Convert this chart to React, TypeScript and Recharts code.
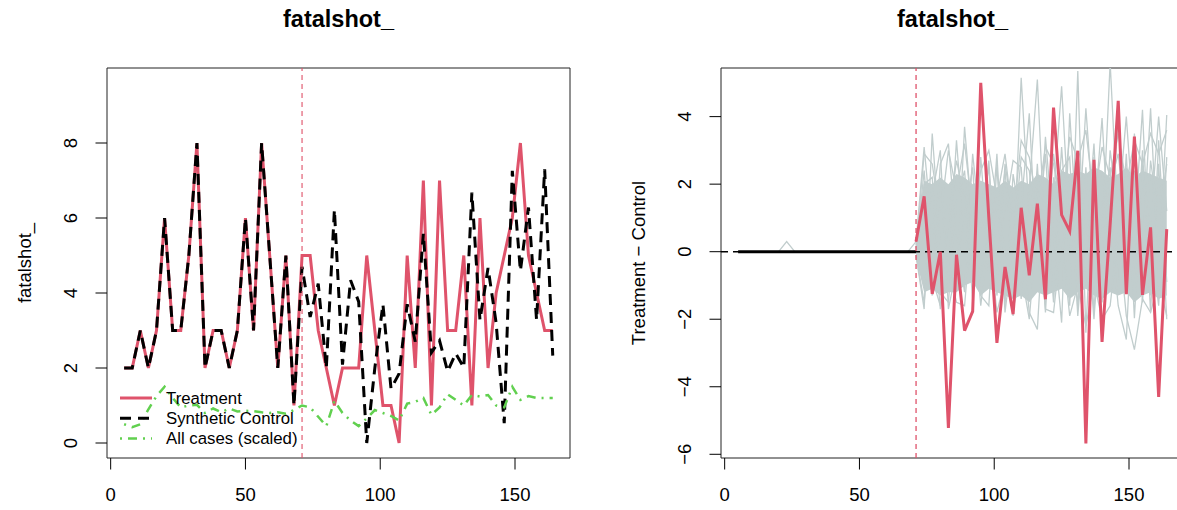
import React from "react";
import {
  Area,
  ComposedChart,
  Line,
  ReferenceArea,
  ReferenceLine,
  XAxis,
  YAxis,
} from "recharts";

// time index, every 3 units
const weeks = [
  5, 8, 11, 14, 17, 20, 23, 26, 29, 32, 35, 38, 41, 44, 47, 50, 53, 56, 59, 62, 65, 68,
  71, 74, 77, 80, 83, 86, 89, 92, 95, 98, 101, 104, 107, 110, 113, 116, 119, 122, 125, 128,
  131, 134, 137, 140, 143, 146, 149, 152, 155, 158, 161, 164,
];
const treatStart = 71;

const treatment = [
  2, 2, 3, 2, 3, 6, 3, 3, 5, 8, 2, 3, 3, 2, 3, 6, 3, 8, 5, 2, 5, 1,
  5, 5, 3, 2, 1, 2, 2, 2, 5, 3, 1, 1, 0, 5, 2, 7, 1, 7, 3, 3, 5, 1, 6, 2, 4, 5, 6, 8, 5, 4, 3, 3,
];
const synthetic = [
  2, 2, 3, 2, 3, 6, 3, 3, 5, 8, 2, 3, 3, 2, 3, 6, 3, 8, 5, 2, 5, 1,
  4.7, 3.36, 4.25, 2.0, 6.22, 2.09, 4.34, 3.77, 0.0, 2.0, 3.7, 1.45, 1.85, 3.7, 2.7, 5.58,
  2.41, 2.73, 1.91, 2.39, 2.01, 6.68, 3.28, 4.67, 3.2, 0.53, 7.26, 4.59, 6.28, 3.28, 7.3, 2.33,
];
const allCasesScaled = [
  0.5, 0.42, 0.5, 0.9, 1.25, 1.5, 1.2, 0.95, 1.0, 1.02, 0.8, 0.92, 0.82, 0.92, 0.84, 0.86,
  0.85, 0.82, 0.8, 0.82, 0.78, 0.88,
  1.0, 0.95, 0.7, 0.45, 1.12, 0.8, 0.6, 0.45, 0.66, 0.88, 0.8, 0.72, 0.6, 1.05, 1.1, 1.2,
  0.75, 0.95, 1.3, 1.15, 1.0, 1.28, 1.24, 1.28, 1.0, 0.95, 1.5, 1.15, 1.25, 1.2, 1.2, 1.2,
];

// right panel: treatment - control
const preGap = [0, 0, 0, 0, 0, 0, 0, 0, 0, 0, 0, 0, 0, 0, 0, 0, 0, 0, 0, 0, 0, 0, 0];
const effectPost = [
  0.3, 1.64, -1.25, 0, -5.22, -0.09, -2.34, -1.77, 5.0, 1.0, -2.7, -0.45, -1.85, 1.3, -0.7, 1.42,
  -1.41, 4.27, 1.09, 0.61, 2.99, -5.68, 2.72, -2.67, 0.8, 4.47, -1.26, 3.41, -1.28, 0.72, -4.3, 0.67,
];

// placebo runs (grey)
const placeboPre = [0, 0, 0, 0, 0, 0, 0.3, 0, 0, 0, 0, 0, 0, 0, 0, 0, 0, 0, 0, 0, 0, 0];
const bandHigh = [
  0.4, 2.1, 2.0, 2.2, 2.0, 2.3, 2.2, 2.0, 2.1, 2.0, 1.9, 2.1, 1.9, 2.1, 2.0, 2.3,
  2.2, 2.0, 2.4, 2.3, 2.4, 2.3, 2.5, 2.4, 2.2, 2.3, 2.5, 2.2, 2.4, 2.3, 2.2, 2.1,
];
const bandLow = [
  -0.2, -1.2, -1.1, -1.3, -1.2, -1.2, -1.0, -0.9, -1.3, -1.1, -1.2, -1.3, -1.4, -1.3, -1.5, -1.2,
  -1.3, -1.2, -1.1, -1.4, -1.2, -1.1, -1.3, -1.4, -1.2, -1.3, -1.2, -1.5, -1.3, -1.2, -1.4, -1.3,
];
const placeboA = [
  0.3, 3.1, 0.5, 1.8, -0.6, 3.3, 0.2, 1.5, -0.8, 1.2, 0.4, 2.4, -0.5, 5.15, 1.0, 2.0,
  -0.8, 1.6, 4.9, 0.6, 1.8, -0.9, 2.2, 0.3, 5.6, 0.8, 1.9, -0.4, 2.6, 0.9, 4.0, 1.2,
];
const placeboB = [
  -0.1, -1.7, 3.5, 0.2, 1.6, -1.0, 3.7, 0.8, 2.1, -0.7, 1.4, 0.1, -1.9, 1.3, 4.1, -0.6,
  3.4, 0.5, -2.1, 4.1, 0.2, 4.25, 0.9, 3.96, -0.3, 4.15, -0.8, 3.5, 0.1, 4.25, -0.6, 4.05,
];
const placeboC = [
  0.1, 1.2, -1.3, 2.6, 3.2, 0.4, -1.2, 2.9, 0.6, 2.7, -1.1, 2.6, 1.0, -1.4, 1.9, 5.1,
  0.0, 2.9, 0.9, -1.6, 5.35, -2.4, 2.8, -0.9, 3.0, 1.2, 4.0, 0.6, 4.2, -1.3, 2.6, -2.0,
];
const placeboD = [
  0.0, 2.4, -0.8, -1.6, 0.9, 2.7, 1.6, -1.4, 2.8, -0.3, 2.9, -1.6, 2.3, 0.8, -1.8, -2.3,
  1.8, -1.5, 2.4, 2.8, -1.7, 2.5, -1.8, 2.3, 0.9, -1.6, -2.6, 2.4, -1.5, 2.7, 1.0, 2.6,
];
const placeboE = [
  0.2, 2.0, 2.2, -1.2, -1.5, 1.5, 2.4, -0.9, 1.0, 2.5, -1.3, 1.2, 2.7, 2.5, -1.0, 2.6,
  -1.8, 2.2, -0.5, 2.3, -1.9, 1.1, -2.0, 1.4, 2.5, -1.2, 2.9, -1.97, 2.4, 0.4, -1.6, 2.8,
];
const placeboF = [
  -0.2, 0.6, 1.7, 3.0, -1.7, -0.5, 1.0, 2.5, -1.3, -1.6, 2.6, -1.8, 0.2, 2.8, 2.4, 0.4,
  2.9, -0.8, 3.1, -0.3, 2.9, 0.2, 3.2, -1.5, 2.0, 2.9, 0.6, -1.0, 3.0, -1.8, 3.3, -0.9,
];
const placeboG = [
  0.1, 2.9, 2.6, 1.0, 3.0, 1.8, 3.2, 1.1, 2.4, 3.0, 1.6, 2.9, 0.9, 3.3, 2.8, 1.4,
  3.1, 2.6, 1.2, 3.4, 2.7, 3.6, 1.5, 3.1, 2.2, 3.5, 2.0, 3.3, 2.6, 3.5, 2.9, 3.6,
];
const placeboH = [
  -0.1, -1.5, 1.2, -1.7, -0.4, -1.5, -1.6, 1.3, -1.6, 0.5, -1.8, -0.8, -1.7, -0.6, -2.0, 0.9,
  -1.7, -1.8, 0.4, -1.9, -1.0, -2.2, -0.9, -2.0, -1.6, 0.6, -1.9, -2.9, -1.4, -1.8, -0.9, -1.9,
];

const xTicks = [0, 50, 100, 150];
const leftYTicks = [0, 2, 4, 6, 8];
const rightYTicks = [-6, -4, -2, 0, 2, 4];
const xDomain: [number, number] = [-1.36, 170.4];

const RED = "#DF536B";
const GREEN = "#61D04F";
const GREY = "#C1CDCD";
const FONT = "'Liberation Sans', Arial, Helvetica, sans-serif";

const pre = weeks.indexOf(treatStart);

const leftData = weeks.map((w, i) => ({
  week: w,
  treatment: treatment[i],
  synthetic: synthetic[i],
  allCases: allCasesScaled[i],
}));

const placebos = [placeboA, placeboB, placeboC, placeboD, placeboE, placeboF, placeboG, placeboH];

const rightData = weeks.map((w, i) => {
  const j = i - pre;
  const row: any = {
    week: w,
    gap: j <= 0 ? preGap[i] : null,
    effect: j >= 0 ? effectPost[j] : null,
    band: j >= 0 ? [bandLow[j], bandHigh[j]] : null,
  };
  placebos.forEach((p, k) => {
    row[`p${k}`] = j >= 0 ? p[j] : k === 0 ? placeboPre[i] : null;
  });
  return row;
});

const fmt = (v: number) => (v < 0 ? `\u2212${-v}` : `${v}`);

function XTick({ x, y, payload }: any) {
  return (
    <text x={x} y={y} dy="0.71em" textAnchor="middle" fontSize={18.5} fill="#000" fontFamily={FONT}>
      {fmt(payload.value)}
    </text>
  );
}

function YTick({ x, y, payload }: any) {
  return (
    <text
      x={x}
      y={y}
      transform={`rotate(-90 ${x} ${y})`}
      textAnchor="middle"
      fontSize={18.5}
      fill="#000"
      fontFamily={FONT}
    >
      {fmt(payload.value)}
    </text>
  );
}

const yTitle = (text: string) => (props: any) => {
  const vb = props.viewBox;
  const bx = vb.x + vb.width - 76;
  const cy = vb.y + vb.height / 2;
  return (
    <text
      x={bx}
      y={cy}
      transform={`rotate(-90 ${bx} ${cy})`}
      textAnchor="middle"
      fontSize={18.5}
      fill="#000"
      fontFamily={FONT}
    >
      {text}
    </text>
  );
};

const titleStyle: React.CSSProperties = {
  position: "absolute",
  top: 7,
  width: 300,
  textAlign: "center",
  fontFamily: FONT,
  fontWeight: "bold",
  fontSize: 23.5,
  lineHeight: "24px",
  color: "#000",
};

function LegendBox() {
  const rows = [
    { label: "Treatment", color: RED, dash: undefined, width: 3 },
    { label: "Synthetic Control", color: "#000", dash: "11 7", width: 3 },
    { label: "All cases (scaled)", color: GREEN, dash: "2 6 9 6", width: 2.5 },
  ];
  return (
    <svg
      width={600}
      height={510}
      style={{ position: "absolute", left: 0, top: 0, pointerEvents: "none" }}
    >
      {rows.map((r, i) => {
        const cy = 398 + i * 20.2;
        return (
          <g key={r.label}>
            <line x1={120} x2={152} y1={cy} y2={cy} stroke={r.color} strokeWidth={r.width} strokeDasharray={r.dash} />
            <text x={166} y={cy + 6} fontSize={16.8} fill="#000" fontFamily={FONT}>
              {r.label}
            </text>
          </g>
        );
      })}
    </svg>
  );
}

export default function App() {
  return (
    <div
      style={{
        position: "absolute",
        left: 0,
        top: 0,
        width: 1177,
        height: 510,
        overflow: "hidden",
        background: "#fff",
        fontFamily: FONT,
      }}
    >
      <div style={{ position: "absolute", left: 0, top: 0 }}>
        <ComposedChart width={600} height={510} data={leftData} margin={{ top: 68, right: 30, left: 0, bottom: 0 }}>
          <XAxis
            dataKey="week"
            type="number"
            domain={xDomain}
            ticks={xTicks}
            allowDataOverflow
            height={52}
            axisLine={false}
            tickLine={{ stroke: "#000", strokeWidth: 1 }}
            tickSize={11.5}
            tickMargin={18}
            tick={<XTick />}
          />
          <YAxis
            type="number"
            domain={[-0.4, 10]}
            ticks={leftYTicks}
            allowDataOverflow
            width={107}
            axisLine={false}
            tickLine={{ stroke: "#000", strokeWidth: 1 }}
            tickSize={11.5}
            tickMargin={18.5}
            tick={<YTick />}
            label={yTitle("fatalshot_")}
          />
          <Line dataKey="treatment" stroke={RED} strokeWidth={3} dot={false} isAnimationActive={false} />
          <Line
            dataKey="synthetic"
            stroke="#000"
            strokeWidth={3}
            strokeDasharray="11 7"
            dot={false}
            isAnimationActive={false}
          />
          <Line
            dataKey="allCases"
            stroke={GREEN}
            strokeWidth={2.5}
            strokeDasharray="2 6 9 6"
            dot={false}
            isAnimationActive={false}
          />
          <ReferenceLine x={treatStart} stroke={RED} strokeOpacity={0.75} strokeWidth={1.5} strokeDasharray="5 4" />
          <ReferenceArea x1={xDomain[0]} x2={xDomain[1]} y1={-0.4} y2={10} fill="none" stroke="#222" strokeWidth={1} />
        </ComposedChart>
      </div>
      <LegendBox />
      <div style={{ ...titleStyle, left: 338.5 - 150 }}>fatalshot_</div>

      <div style={{ position: "absolute", left: 600, top: 0 }}>
        <ComposedChart width={600} height={510} data={rightData} margin={{ top: 68, right: 16, left: 0, bottom: 0 }}>
          <XAxis
            dataKey="week"
            type="number"
            domain={xDomain}
            ticks={xTicks}
            allowDataOverflow
            height={52}
            axisLine={false}
            tickLine={{ stroke: "#000", strokeWidth: 1 }}
            tickSize={11.5}
            tickMargin={18}
            tick={<XTick />}
          />
          <YAxis
            type="number"
            domain={[-6.11, 5.44]}
            ticks={rightYTicks}
            allowDataOverflow
            width={121}
            axisLine={false}
            tickLine={{ stroke: "#000", strokeWidth: 1 }}
            tickSize={11.5}
            tickMargin={18.5}
            tick={<YTick />}
            label={yTitle("Treatment \u2212 Control")}
          />
          <Area dataKey="band" stroke="none" fill={GREY} fillOpacity={1} isAnimationActive={false} />
          {placebos.map((_, k) => (
            <Line
              key={k}
              dataKey={`p${k}`}
              stroke={GREY}
              strokeWidth={1.3}
              dot={false}
              isAnimationActive={false}
            />
          ))}
          <ReferenceLine y={0} stroke="#000" strokeWidth={1.5} strokeDasharray="7 5" />
          <Line dataKey="gap" stroke="#000" strokeWidth={3} dot={false} isAnimationActive={false} />
          <Line dataKey="effect" stroke={RED} strokeWidth={3} dot={false} isAnimationActive={false} />
          <ReferenceLine x={treatStart} stroke={RED} strokeWidth={1.3} strokeDasharray="5 4" />
          <ReferenceArea x1={xDomain[0]} x2={xDomain[1]} y1={-6.11} y2={5.44} fill="none" stroke="#222" strokeWidth={1} />
        </ComposedChart>
      </div>
      <div style={{ ...titleStyle, left: 952.5 - 150 }}>fatalshot_</div>
    </div>
  );
}
